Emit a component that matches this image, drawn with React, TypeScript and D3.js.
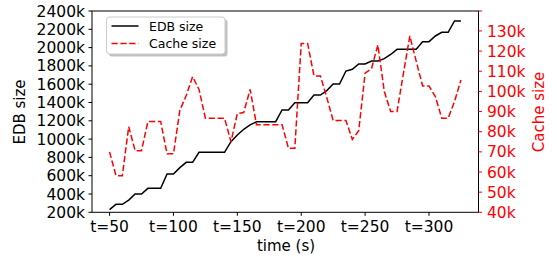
import React from "react";
import * as d3 from "d3";

const times = d3.range(50, 326, 5);
const edbSize = [
  230, 287, 287, 334, 400, 400, 462, 462, 462, 619, 619, 688, 746, 746, 856, 856,
  856, 856, 856, 972, 1045, 1107, 1155, 1190, 1190, 1190, 1190, 1318, 1318, 1398,
  1398, 1398, 1482, 1482, 1530, 1602, 1602, 1744, 1763, 1821, 1821, 1854, 1854,
  1880, 1925, 1981, 1981, 1981, 1981, 2065, 2065, 2127, 2167, 2167, 2291, 2291,
];
const cacheSize = [
  70, 58.2, 58.2, 82.5, 70.6, 70.6, 85, 85, 85, 69, 69, 90.5, 98, 107.3, 101, 86.7,
  86.7, 86.7, 86.7, 75, 89, 89.5, 101, 83.5, 83.5, 83.5, 83.5, 83.5, 71.8, 71.8,
  123.8, 123.8, 107.7, 107.7, 97, 85.5, 85.5, 85.5, 76.2, 80.5, 109, 111.3, 123,
  100, 90, 90, 109, 127.5, 115, 102.7, 102.7, 97.4, 86.7, 86.7, 95, 105.7,
];
const xTicks = [50, 100, 150, 200, 250, 300];
const leftTicks = d3.range(200, 2401, 200);
const rightTicks = d3.range(40, 131, 10);

const W = 557, H = 257;
const L = 92, R = 478.5, T = 11, B = 212.3;
const FONT = "DejaVu Sans, sans-serif";

export default function App() {
  const x = d3.scaleLinear().domain([36.25, 338.75]).range([L, R]);
  const yL = d3.scaleLinear().domain([200, 2400]).range([B, T]);
  const yR = d3.scaleLinear().domain([40, 139.9]).range([B, T]);
  const lineL = d3.line<number>().x((_, i) => x(times[i])).y((d) => yL(d));
  const lineR = d3.line<number>().x((_, i) => x(times[i])).y((d) => yR(d));
  const red = "#ff0000";
  return (
    <svg width={W} height={H} style={{ position: "absolute", left: 0, top: 0 }} fontFamily={FONT}>
      <rect width={W} height={H} fill="white" />
      <path d={lineL(edbSize) || ""} fill="none" stroke="black" strokeWidth={1.5} />
      <path d={lineR(cacheSize) || ""} fill="none" stroke={red} strokeWidth={1.5} strokeDasharray="6.2,2.7" />
      <rect x={L} y={T} width={R - L} height={B - T} fill="none" stroke="black" strokeWidth={1} />
      {leftTicks.map((t) => (
        <g key={"l" + t}>
          <line x1={L - 3.5} x2={L} y1={yL(t)} y2={yL(t)} stroke="black" />
          <text x={L - 7} y={yL(t)} dy="0.36em" textAnchor="end" fontSize={15.5}>{t}k</text>
        </g>
      ))}
      <line x1={R} x2={R + 3.5} y1={T} y2={T} stroke={red} />
      {rightTicks.map((t) => (
        <g key={"r" + t}>
          <line x1={R} x2={R + 3.5} y1={yR(t)} y2={yR(t)} stroke={red} />
          <text x={R + 8.5} y={yR(t)} dy="0.36em" textAnchor="start" fontSize={15.5} fill={red}>{t}k</text>
        </g>
      ))}
      {xTicks.map((t) => (
        <g key={"x" + t}>
          <line x1={x(t)} x2={x(t)} y1={B} y2={B + 3.5} stroke="black" />
          <text x={x(t)} y={B + 20} textAnchor="middle" fontSize={15.5}>t={t}</text>
        </g>
      ))}
      <text x={286} y={251} textAnchor="middle" fontSize={15}>time (s)</text>
      <text transform={`translate(20,112) rotate(-90)`} textAnchor="middle" dy="0.36em" fontSize={15}>EDB size</text>
      <text transform={`translate(539,112) rotate(-90)`} textAnchor="middle" dy="0.36em" fontSize={15} fill={red}>Cache size</text>
      <g>
        <rect x={109} y={19.5} width={118.5} height={37} rx={3} fill="#b0b0b0" opacity={0.8} />
        <rect x={106.5} y={17} width={118.5} height={37} rx={3} fill="white" stroke="#cccccc" strokeWidth={1} />
        <line x1={111.5} x2={138.5} y1={26} y2={26} stroke="black" strokeWidth={1.5} />
        <line x1={111.5} x2={138.5} y1={43.5} y2={43.5} stroke={red} strokeWidth={1.5} strokeDasharray="6.2,2.7" />
        <text x={149} y={26} dy="0.36em" fontSize={12.5}>EDB size</text>
        <text x={149} y={43.5} dy="0.36em" fontSize={12.5}>Cache size</text>
      </g>
    </svg>
  );
}
